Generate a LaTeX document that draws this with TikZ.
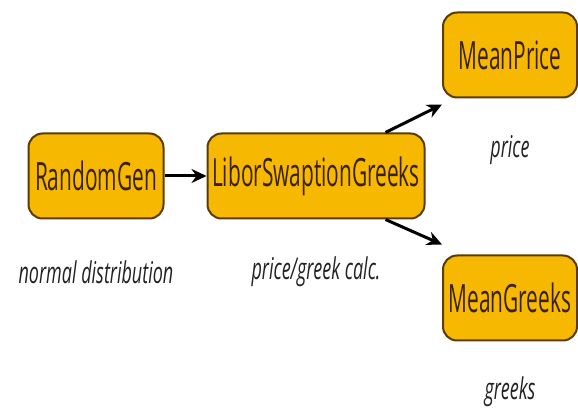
\documentclass[tikz,border=0pt]{standalone}
\usepackage{fontspec}
\setmainfont{Open Sans}[FakeStretch=0.6]
\newfontfamily\boxfont{Open Sans}[FakeStretch=0.535]
\usetikzlibrary{arrows.meta}
\definecolor{boxfill}{HTML}{F6B800}
\definecolor{boxdraw}{HTML}{5A3A05}
\definecolor{boxtext}{HTML}{3A2200}
\definecolor{labtext}{HTML}{222222}
\tikzset{
  procbox/.style={draw=boxdraw, line width=2pt, fill=boxfill, rounded corners=14pt,
    minimum height=85pt, text=boxtext, font=\boxfont\fontsize{39}{40}\selectfont, inner sep=0pt},
  lab/.style={text=labtext, font=\fontsize{30}{32}\selectfont\itshape},
  conn/.style={line width=3pt, -{Stealth[length=15pt,width=14pt]}}
}
\begin{document}
\begin{tikzpicture}[x=1pt,y=-1pt]
\useasboundingbox (0,0) rectangle (578,411);
\node[procbox, minimum width=135pt] (rg) at (96,176) {RandomGen};
\node[procbox, minimum width=217pt] (lsg) at (316,176) {LiborSwaptionGreeks};
\node[procbox, minimum width=134pt] (mp) at (510,55) {MeanPrice};
\node[procbox, minimum width=134pt] (mg) at (510,298) {MeanGreeks};
\node[lab] (l1) at (96,272) {normal distribution};
\node[lab] (l2) at (316,272) {price/greek calc.};
\node[lab] (l3) at (510,150) {price};
\node[lab] (l4) at (510,392) {greeks};
\draw[conn] (rg.east) -- (lsg.west);
\draw[conn] ([xshift=-40pt]lsg.north east) -- ([yshift=-6pt]mp.south west);
\draw[conn] ([xshift=-40pt]lsg.south east) -- ([yshift=10pt]mg.north west);
\end{tikzpicture}
\end{document}
